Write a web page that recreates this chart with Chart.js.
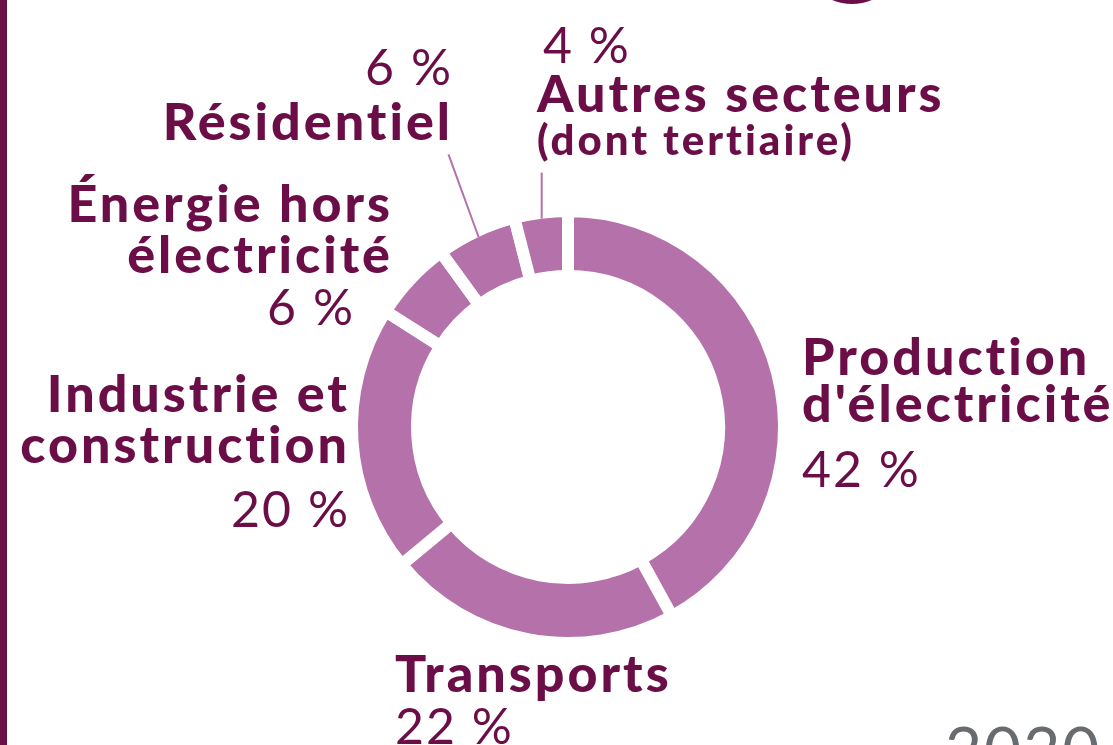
<!DOCTYPE html>
<html lang="fr">
<head>
<meta charset="utf-8">
<title>Émissions par secteur</title>
<script src="https://cdn.jsdelivr.net/npm/chart.js@4.4.1/dist/chart.umd.min.js"></script>
<style>
  html, body { margin: 0; padding: 0; background: #fff; }
  body { width: 1113px; height: 745px; position: relative; overflow: hidden; font-family: Lato, "Open Sans", sans-serif; color: #6b0e48; }
  #bar { position: absolute; left: 0; top: 0; width: 7px; height: 745px; background: #6b0e48; }
  #deco { position: absolute; left: 800px; top: -100px; width: 104px; height: 104px; border-radius: 50%; background: #6b0e48; }
  #wrap { position: absolute; left: 0; top: 0; width: 1113px; height: 745px; }
  .lbl { position: absolute; white-space: nowrap; line-height: 1; font-variant-ligatures: none; }
  .name { font-weight: 900; font-size: 52px; letter-spacing: 3px; }
  .sub { font-weight: 900; font-size: 42px; letter-spacing: 3px; }
  .pct { font-weight: 400; font-size: 50px; letter-spacing: 2px; }
  #year { position: absolute; left: 945px; font-size: 64px; font-weight: 400; color: #686b6f; line-height: 1; letter-spacing: 2px; }
</style>
</head>
<body>
<div id="bar"></div>
<div id="deco"></div>
<div id="wrap"><canvas id="chart"></canvas></div>
<div id="labels"></div>
<div id="year">2020</div>
<script>
// Données (parts des émissions, %)
const categories = [
  ["Production", "d'électricité"],
  ["Transports"],
  ["Industrie et", "construction"],
  ["Énergie hors", "électricité"],
  ["Résidentiel"],
  ["Autres secteurs"]
];
const subtitles = ["", "", "", "", "", "(dont tertiaire)"];
const values = [42, 22, 20, 6, 6, 4];
const year = "2020";

const ringColor = '#b571aa';

// mise en page des étiquettes : x = bord d'alignement, y = lignes de base
const layout = [
  { align: 'left',  x: 802, names: [375, 422], pct: 487 },
  { align: 'left',  x: 395, names: [692], pct: 744 },
  { align: 'right', x: 350, names: [412, 463], pct: 527 },
  { align: 'right', x: 393, names: [222, 273], pct: 325, pctX: 355 },
  { align: 'right', x: 453, names: [140], pct: 85 },
  { align: 'left',  x: 537, names: [112], sub: 155, pct: 63, pctX: 543 }
];
const ASC = 0.887; // ligne de base dans une boîte line-height:1 (Lato)

function addLine(text, cls, size, align, x, baseline) {
  const el = document.createElement('div');
  el.className = 'lbl ' + cls;
  el.textContent = text;
  el.style.top = (baseline - ASC * size) + 'px';
  if (align === 'left') el.style.left = x + 'px';
  else el.style.right = (1113 - x) + 'px';
  document.getElementById('labels').appendChild(el);
}

categories.forEach(function(lines, i) {
  const L = layout[i];
  lines.forEach(function(t, j) { addLine(t, 'name', 52, L.align, L.x, L.names[j]); });
  if (subtitles[i]) addLine(subtitles[i], 'sub', 42, L.align, L.x, L.sub);
  addLine(values[i] + ' %', 'pct', 50, L.align, L.pctX || L.x, L.pct);
});

const yearEl = document.getElementById('year');
yearEl.textContent = year;
yearEl.style.top = (774 - ASC * 64) + 'px';

// traits de rappel pour les petites parts (angle en degrés depuis la verticale)
const gap = 12;
const leaders = { 4: { len: 88, tilt: -20 }, 5: { len: 46, tilt: 0 } };
const leaderPlugin = {
  id: 'leaders',
  afterDatasetsDraw(chart) {
    const ctx = chart.ctx;
    const meta = chart.getDatasetMeta(0);
    ctx.save();
    ctx.strokeStyle = ringColor;
    ctx.lineWidth = 2;
    Object.keys(leaders).forEach(function(k) {
      const arc = meta.data[k];
      const p = arc.getProps(['x', 'y', 'startAngle', 'endAngle', 'outerRadius'], true);
      const mid = (p.startAngle + p.endAngle) / 2;
      const r = p.outerRadius - gap / 2;
      const sx = p.x + Math.cos(mid) * r;
      const sy = p.y + Math.sin(mid) * r;
      const spec = leaders[k];
      const t = spec.tilt * Math.PI / 180;
      const ex = sx + Math.sin(t) * spec.len;
      const ey = sy - Math.cos(t) * spec.len;
      ctx.beginPath();
      ctx.moveTo(sx, sy);
      ctx.lineTo(ex, ey);
      ctx.stroke();
    });
    ctx.restore();
  }
};

new Chart(document.getElementById('chart').getContext('2d'), {
  type: 'doughnut',
  data: {
    labels: categories.map(function(c) { return c.join(' '); }),
    datasets: [{
      data: values,
      backgroundColor: ringColor,
      borderColor: '#ffffff',
      borderWidth: gap,
      borderAlign: 'center',
      clip: false
    }]
  },
  options: {
    responsive: true,
    maintainAspectRatio: false,
    animation: false,
    cutout: '69.9%',
    events: [],
    layout: { padding: { left: 346, top: 205, right: 323, bottom: 96 } },
    plugins: { legend: { display: false }, tooltip: { enabled: false } }
  },
  plugins: [leaderPlugin]
});
</script>
</body>
</html>
